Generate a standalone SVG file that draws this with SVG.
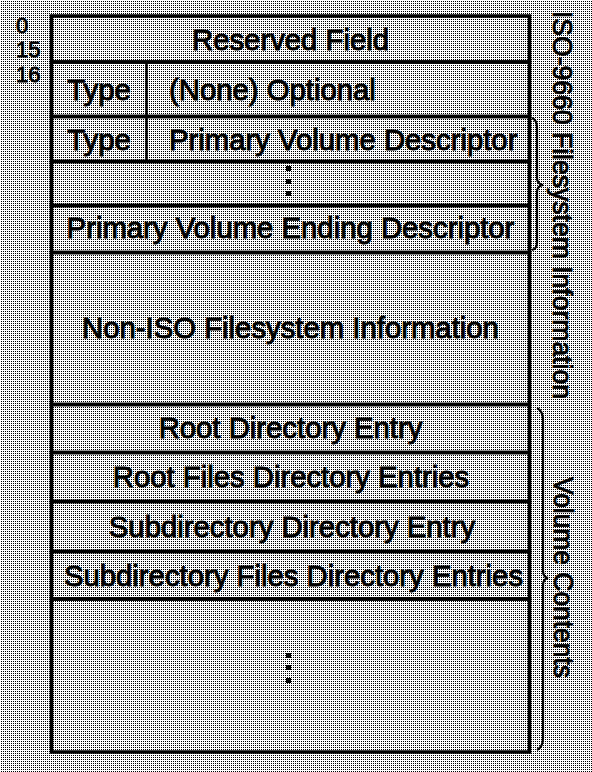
<svg xmlns="http://www.w3.org/2000/svg" width="592" height="772" viewBox="0 0 592 772">
<defs>
<pattern id="dither" x="0" y="0" width="2" height="2" patternUnits="userSpaceOnUse">
<rect width="2" height="2" fill="#ffffff"/>
<rect x="1" y="1" width="1" height="1" fill="#000000"/>
</pattern>
</defs>
<style>
.cell{fill:none;stroke:#000;stroke-width:3.5}
.div{stroke:#000;stroke-width:2.5}
.t{font-family:"Liberation Sans",Arial,sans-serif;font-size:29.3px;fill:#000;stroke:#000;stroke-width:0.9}
.c{text-anchor:middle}
.n{font-family:"Liberation Sans",Arial,sans-serif;font-size:22px;fill:#000;stroke:#000;stroke-width:0.8}
.r{font-family:"Liberation Sans",Arial,sans-serif;font-size:28px;fill:#000;stroke:#000;stroke-width:0.8}
.brace{fill:none;stroke:#000;stroke-width:2.2}
.dot{fill:#000}
</style>
<rect width="592" height="772" fill="url(#dither)"/>

<g id="labels-left">
<text class="n" x="16" y="33">0</text>
<text class="n" x="16" y="57">15</text>
<text class="n" x="16" y="82">16</text>
</g>

<g id="reserved-field">
<rect class="cell" x="51.5" y="16" width="478" height="46"/>
<text class="t c" x="290.5" y="50">Reserved Field</text>
</g>

<g id="optional-descriptor">
<rect class="cell" x="51.5" y="62" width="478" height="54.5"/>
<line class="div" x1="146.5" y1="62" x2="146.5" y2="116.5"/>
<text class="t c" x="99" y="99.5">Type</text>
<text class="t" x="169" y="99.5">(None) Optional</text>
</g>

<g id="primary-volume-descriptor">
<rect class="cell" x="51.5" y="116.5" width="478" height="45"/>
<line class="div" x1="146.5" y1="116.5" x2="146.5" y2="161.5"/>
<text class="t c" x="99" y="150">Type</text>
<text class="t" x="169" y="150">Primary Volume Descriptor</text>
</g>

<g id="descriptor-gap">
<rect class="cell" x="51.5" y="161.5" width="478" height="44"/>
<rect class="dot" x="286" y="166" width="5" height="5"/>
<rect class="dot" x="286" y="179" width="5" height="5"/>
<rect class="dot" x="286" y="191" width="5" height="5"/>
</g>

<g id="primary-volume-ending-descriptor">
<rect class="cell" x="51.5" y="205.5" width="478" height="47"/>
<text class="t c" x="290.5" y="238">Primary Volume Ending Descriptor</text>
</g>

<g id="non-iso-info">
<rect class="cell" x="51.5" y="252.5" width="478" height="152"/>
<text class="t c" x="290.5" y="338">Non-ISO Filesystem Information</text>
</g>

<g id="root-directory-entry">
<rect class="cell" x="51.5" y="404.5" width="478" height="48"/>
<text class="t c" x="290.5" y="438">Root Directory Entry</text>
</g>

<g id="root-files-entries">
<rect class="cell" x="51.5" y="452.5" width="478" height="49"/>
<text class="t c" x="291" y="487">Root Files Directory Entries</text>
</g>

<g id="subdirectory-entry">
<rect class="cell" x="51.5" y="501.5" width="478" height="50"/>
<text class="t c" x="292" y="537">Subdirectory Directory Entry</text>
</g>

<g id="subdirectory-files-entries">
<rect class="cell" x="51.5" y="551.5" width="478" height="47.5"/>
<text class="t c" x="293.5" y="586">Subdirectory Files Directory Entries</text>
</g>

<g id="volume-gap">
<rect class="cell" x="51.5" y="599" width="478" height="153"/>
<rect class="dot" x="286" y="653" width="5" height="5"/>
<rect class="dot" x="286" y="665" width="5" height="5"/>
<rect class="dot" x="286" y="678" width="5" height="5"/>
</g>

<g id="braces">
<path class="brace" d="M532,118 Q537,120 537,128 L537,178 Q537,184 543,185 Q537,186 537,192 L537,242 Q537,249 532,250"/>
<path class="brace" d="M537,408 Q543,411 543,420 L543,571 Q543,577 548,578 Q543,579 543,585 L543,738 Q543,747 537,750"/>
</g>

<g id="labels-right">
<text class="r" transform="translate(553,11) rotate(90)" textLength="388" lengthAdjust="spacingAndGlyphs">ISO-9660 Filesystem Information</text>
<text class="r" transform="translate(554,477) rotate(90)" textLength="201" lengthAdjust="spacingAndGlyphs">Volume Contents</text>
</g>
</svg>
